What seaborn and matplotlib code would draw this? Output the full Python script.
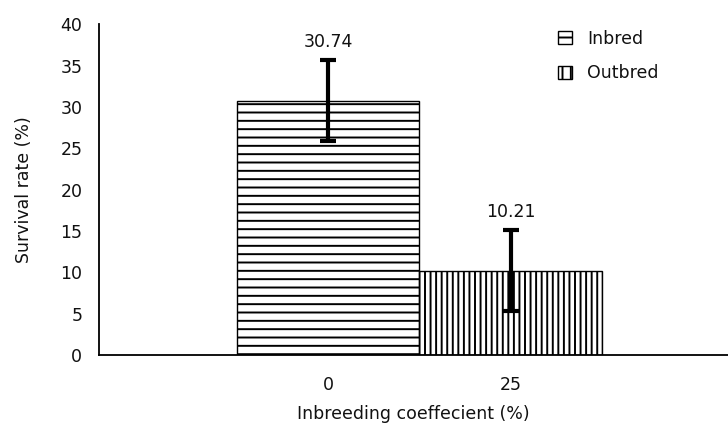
import pandas as pd
import matplotlib
matplotlib.use("Agg")
import matplotlib.pyplot as plt
import seaborn as sns
from matplotlib.patches import Patch

# Datos
categorias = ["0", "25"]
series = ["Inbred", "Outbred"]
supervivencia = [30.74, 10.21]
error = [4.9, 4.9]
etiquetas = ["30.74", "10.21"]
y_ticks = [0, 5, 10, 15, 20, 25, 30, 35, 40]

df = pd.DataFrame({"coef": categorias, "grupo": series, "valor": supervivencia})

sns.set_style("white")
plt.rcParams["font.family"] = "sans-serif"
plt.rcParams["font.sans-serif"] = ["DejaVu Sans"]
plt.rcParams["hatch.linewidth"] = 1.4
for clave in ["text.color", "axes.labelcolor", "xtick.color", "ytick.color"]:
    plt.rcParams[clave] = "#111111"

fig = plt.figure(figsize=(7.28, 4.32), dpi=100)
ax = fig.add_axes([0.136, 0.178, 0.864, 0.766])

sns.barplot(data=df, x="coef", y="valor", hue="grupo", order=categorias,
            hue_order=series, dodge=False, width=1.0, palette=["white", "white"],
            edgecolor="black", linewidth=1.0, errorbar=None, legend=False, ax=ax)

tramas = ["--", "|||"]
for patch, trama in zip(ax.patches, tramas):
    patch.set_hatch(trama)

# Barras de error y etiquetas
xs = list(range(len(categorias)))
ax.errorbar(xs, supervivencia, yerr=error, fmt="none", ecolor="black",
            elinewidth=3, capsize=6, capthick=3, zorder=5)
for x, v, e, t in zip(xs, supervivencia, error, etiquetas):
    ax.text(x, v + e + 1.1, t, ha="center", va="bottom", fontsize=12.5)

ax.set_xlim(-1.254, 2.19)
ax.set_ylim(0, 40)
ax.set_yticks(y_ticks)
ax.tick_params(axis="y", direction="out", length=4, width=1.3, labelsize=12.5, pad=8)
ax.tick_params(axis="x", which="major", length=0, labelsize=12.5, pad=15)
ax.set_xticks(xs)
ax.set_xticklabels(categorias)
ax.set_xticks([-1.254], minor=True)
ax.tick_params(axis="x", which="minor", direction="out", length=5, width=1.3)

for lado in ["top", "right"]:
    ax.spines[lado].set_visible(False)
for lado in ["left", "bottom"]:
    ax.spines[lado].set_linewidth(1.3)
    ax.spines[lado].set_color("black")

ax.set_ylabel("Survival rate (%)", fontsize=12.5, labelpad=20)
ax.set_xlabel("Inbreeding coeffecient (%)", fontsize=12.5, labelpad=8)

handles = [Patch(facecolor="white", edgecolor="black", hatch=h, label=s)
           for h, s in zip(["--", "||"], series)]
ax.legend(handles=handles, loc="upper right", bbox_to_anchor=(0.915, 1.03),
          frameon=False, fontsize=12.5, handlelength=0.8, handleheight=0.8,
          labelspacing=0.95, handletextpad=0.9)

fig.savefig("out.png", dpi=100)
